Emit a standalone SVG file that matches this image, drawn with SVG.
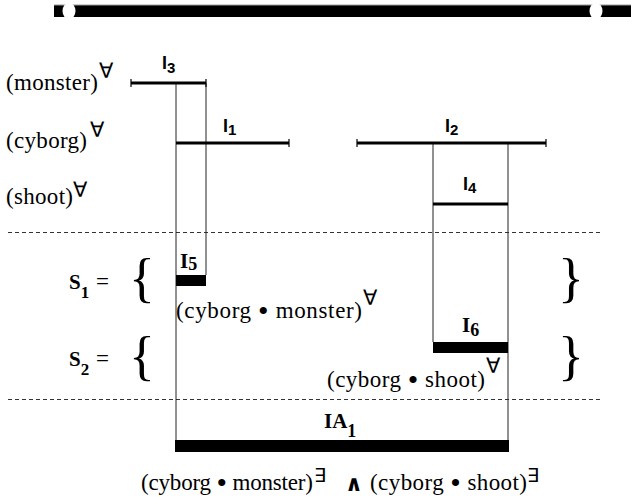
<svg xmlns="http://www.w3.org/2000/svg" width="631" height="503" viewBox="0 0 631 503">
<style>
.lbl{font-family:"Liberation Serif","Times New Roman",serif;font-size:23px;fill:#000}
.dot{font-size:30px}
.sym{font-family:"DejaVu Sans",sans-serif;font-size:21px;fill:#000}
.ex{font-family:"DejaVu Sans",sans-serif;font-size:19px;fill:#000}
.sb{font-family:"Liberation Sans",Arial,sans-serif;font-weight:bold;font-size:18px;fill:#000}
.tb{font-family:"Liberation Serif","Times New Roman",serif;font-weight:bold;font-size:21px;fill:#000}
.brace{font-family:"Liberation Serif","Times New Roman",serif;font-size:54px;fill:#000}
.bar{stroke:#000;stroke-width:3;fill:none}
.tick{stroke:#000;stroke-width:1.2}
.thin{stroke:#222;stroke-width:1;fill:none}
.dash{stroke:#333;stroke-width:1;stroke-dasharray:4 3;fill:none}
</style>
<rect width="631" height="503" fill="#fff"/>
<g id="topbar">
<rect x="54" y="5" width="577" height="12" fill="#000"/>
<line x1="54" y1="5" x2="631" y2="5" stroke="#999" stroke-width="1"/>
<ellipse cx="69" cy="11" rx="6.5" ry="8" fill="#fff"/>
<ellipse cx="596" cy="11" rx="6.5" ry="8" fill="#fff"/>
</g>
<g id="separators">
<line class="dash" x1="8" y1="232.5" x2="602" y2="232.5"/>
<line class="dash" x1="8" y1="399.5" x2="602" y2="399.5"/>
</g>
<g id="row-labels">
<text class="lbl" x="6" y="90" textLength="92">(monster)</text>
<text class="sym" x="99" y="78">∀</text>
<text class="lbl" x="6" y="148" textLength="81">(cyborg)</text>
<text class="sym" x="90" y="137">∀</text>
<text class="lbl" x="6" y="204" textLength="67">(shoot)</text>
<text class="sym" x="73" y="197">∀</text>
</g>
<g id="connectors">
<line class="thin" x1="176" y1="83" x2="176" y2="440"/>
<line class="thin" x1="206" y1="83" x2="206" y2="275"/>
<line class="thin" x1="433" y1="143" x2="433" y2="342"/>
<line class="thin" x1="508" y1="143" x2="508" y2="440"/>
</g>
<g id="I3">
<line class="bar" x1="131" y1="83" x2="206" y2="83"/>
<line class="tick" x1="131" y1="79" x2="131" y2="87"/>
<line class="tick" x1="206" y1="79" x2="206" y2="87"/>
<text class="sb" x="162" y="69">I<tspan font-size="15" dy="4">3</tspan></text>
</g>
<g id="I1">
<line class="bar" x1="176" y1="143" x2="289" y2="143"/>
<line class="tick" x1="289" y1="139" x2="289" y2="147"/>
<text class="sb" x="223" y="132">I<tspan font-size="15" dy="3">1</tspan></text>
</g>
<g id="I2">
<line class="bar" x1="357" y1="143" x2="546" y2="143"/>
<line class="tick" x1="357" y1="139" x2="357" y2="147"/>
<line class="tick" x1="546" y1="139" x2="546" y2="147"/>
<text class="sb" x="445" y="132">I<tspan font-size="15" dy="3">2</tspan></text>
</g>
<g id="I4">
<line class="bar" x1="433" y1="204" x2="508" y2="204"/>
<text class="sb" x="463" y="190">I<tspan font-size="15" dy="3">4</tspan></text>
</g>
<g id="S1">
<text class="tb" x="69" y="289" font-size="20">S<tspan font-size="17" dy="9">1</tspan></text>
<text class="lbl" x="96" y="289" font-size="21">=</text>
<text class="brace" x="129" y="296">{</text>
<text class="brace" x="558" y="296">}</text>
</g>
<g id="S2">
<text class="tb" x="69" y="366" font-size="20">S<tspan font-size="17" dy="9">2</tspan></text>
<text class="lbl" x="96" y="366" font-size="21">=</text>
<text class="brace" x="129" y="374">{</text>
<text class="brace" x="558" y="374">}</text>
</g>
<g id="I5">
<rect x="176" y="275" width="30" height="11" fill="#000"/>
<text class="tb" x="180" y="268" font-size="22">I<tspan font-size="18" dy="2">5</tspan></text>
<text class="lbl" x="176" y="318" textLength="186">(cyborg <tspan class="dot" dy="3">•</tspan><tspan dy="-3"> monster)</tspan></text>
<text class="sym" x="363" y="305">∀</text>
</g>
<g id="I6">
<rect x="433" y="342" width="75" height="11" fill="#000"/>
<text class="tb" x="462" y="332" font-size="22">I<tspan font-size="18" dy="4">6</tspan></text>
<text class="lbl" x="327" y="387" textLength="158">(cyborg <tspan class="dot" dy="3">•</tspan><tspan dy="-3"> shoot)</tspan></text>
<text class="sym" x="486" y="373">∀</text>
</g>
<g id="IA1">
<rect x="175" y="440" width="334" height="12" fill="#000"/>
<text class="tb" x="324" y="428" font-size="20">IA<tspan font-size="18" dy="9">1</tspan></text>
<text class="lbl" x="141" y="490" textLength="172">(cyborg <tspan class="dot" dy="3">•</tspan><tspan dy="-3"> monster)</tspan></text>
<text class="ex" x="314" y="482">∃</text>
<text x="345" y="491" font-family="DejaVu Sans,sans-serif" font-weight="bold" font-size="22">∧</text>
<text class="lbl" x="370" y="490" textLength="157">(cyborg <tspan class="dot" dy="3">•</tspan><tspan dy="-3"> shoot)</tspan></text>
<text class="ex" x="527" y="482">∃</text>
</g>
</svg>
